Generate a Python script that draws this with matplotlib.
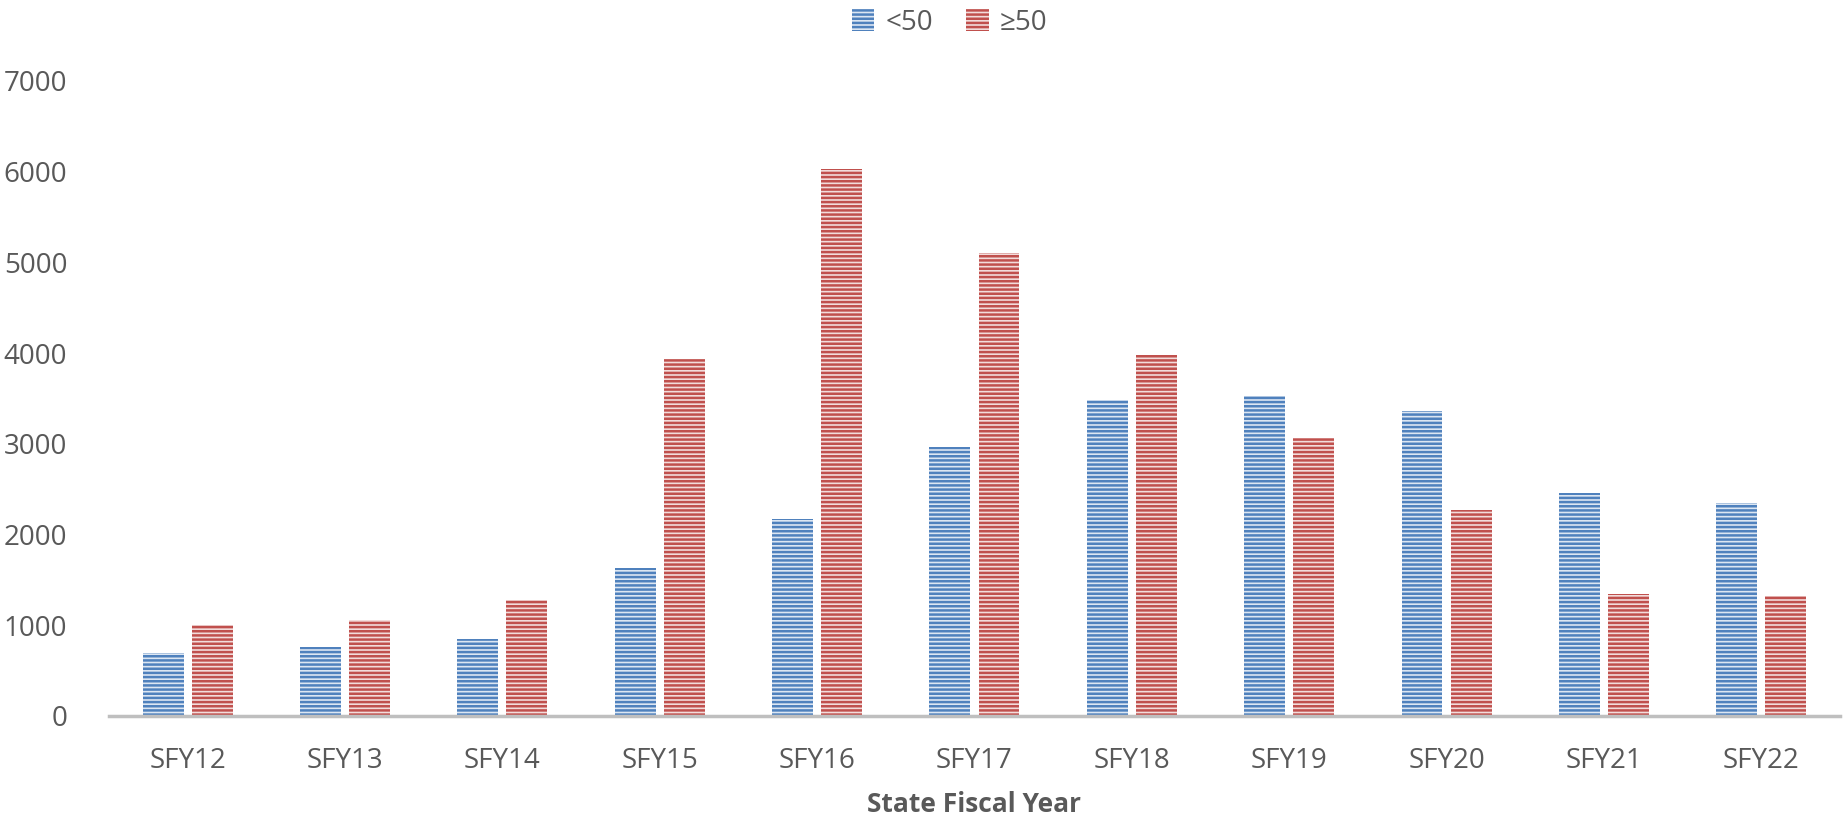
import matplotlib
matplotlib.use("Agg")
import matplotlib.pyplot as plt
import numpy as np
from matplotlib.patches import Patch

categories = ["SFY12", "SFY13", "SFY14", "SFY15", "SFY16", "SFY17",
              "SFY18", "SFY19", "SFY20", "SFY21", "SFY22"]
under50 = [690, 760, 850, 1630, 2170, 2970, 3480, 3530, 3360, 2460, 2350]
over50 = [1000, 1060, 1280, 3930, 6030, 5100, 3980, 3060, 2270, 1350, 1320]
series_labels = ["<50", "\u226550"]
yticks = [0, 1000, 2000, 3000, 4000, 5000, 6000, 7000]

plt.rcParams['font.family'] = ['Open Sans', 'DejaVu Sans']
plt.rcParams['hatch.linewidth'] = 1.8

blue_stripe, blue_bg = "#4F81BD", "#DCE6F2"
red_stripe, red_bg = "#C0504D", "#F2DCDB"
text_col = "#595959"

fig = plt.figure(figsize=(18.44, 8.18), dpi=100)
ax = fig.add_axes([0.0591, 0.1247, 0.9387, 0.7763])

x = np.arange(len(categories))
w = 0.26
off = 0.156
ax.bar(x - off, under50, width=w, color=blue_bg, edgecolor=blue_stripe,
       hatch="----", linewidth=0)
ax.bar(x + off, over50, width=w, color=red_bg, edgecolor=red_stripe,
       hatch="----", linewidth=0)

ax.set_xlim(-0.5, len(categories) - 0.5)
ax.set_ylim(0, 7000)
ax.set_yticks(yticks)
ax.set_yticklabels([str(v) for v in yticks])
ax.set_xticks(x)
ax.set_xticklabels(categories)
ax.tick_params(axis='both', length=0, labelsize=20, colors=text_col)
ax.tick_params(axis='y', pad=30)
ax.tick_params(axis='x', pad=22)

for s in ['top', 'right', 'left']:
    ax.spines[s].set_visible(False)
ax.spines['bottom'].set_color("#BFBFBF")
ax.spines['bottom'].set_linewidth(2.5)

ax.set_xlabel("State Fiscal Year", fontsize=19, fontweight='bold',
              color=text_col, labelpad=12)

handles = [Patch(facecolor=blue_bg, edgecolor=blue_stripe, hatch="----", linewidth=0),
           Patch(facecolor=red_bg, edgecolor=red_stripe, hatch="----", linewidth=0)]
leg = fig.legend(handles, series_labels, loc='upper center',
                 bbox_to_anchor=(0.515, 1.02), ncol=2, frameon=False,
                 fontsize=20, handlelength=0.8, handleheight=0.8,
                 handletextpad=0.4, columnspacing=1.2)
for t in leg.get_texts():
    t.set_color(text_col)

fig.savefig("out.png", dpi=100)
